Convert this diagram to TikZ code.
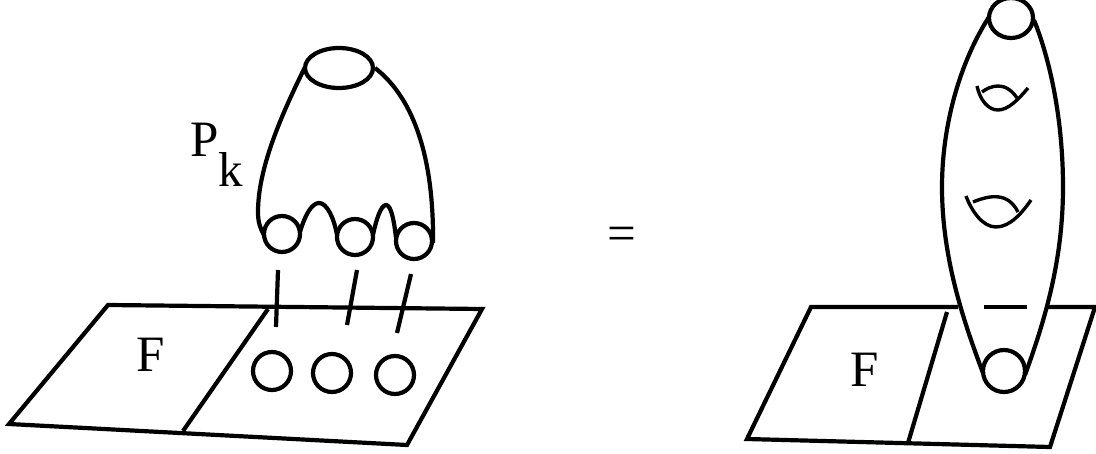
\documentclass[tikz,border=0pt]{standalone}
\usepackage{fontspec}
\setmainfont{Liberation Serif}
\tikzset{
  curve/.style={line width=4.2pt,line join=miter,line cap=butt},
  thin curve/.style={line width=3.4pt,line cap=butt},
  label text/.style={inner sep=0pt,font=\fontsize{51}{51}\selectfont,anchor=base west},
  sub text/.style={inner sep=0pt,font=\fontsize{49}{49}\selectfont,anchor=base west}
}
\begin{document}
\begin{tikzpicture}[x=1pt,y=-1pt]
\useasboundingbox (0,0) rectangle (1096,454);
% left sheet
\draw[curve] (108,305) -- (482,309) -- (407,445) -- (9,424) -- cycle;
\draw[curve] (268,309) -- (183,431);
\draw[curve] (278,270) -- (276,327);
\draw[curve] (357,270) -- (347,325);
\draw[curve] (411,274) -- (397,333);
\draw[curve] (272,371) circle (19);
\draw[curve] (332,373) circle (19);
\draw[curve] (395,375) circle (19);
\node[label text] (F1) at (136,372) {F};
% left surface
\draw[curve] (339,68) ellipse (34 and 20);
\draw[curve] (282,234) circle (18);
\draw[curve] (355,237) circle (18);
\draw[curve] (414,241) circle (18);
\draw[curve] (305,67) .. controls (285,108) and (258,165) .. (258,212) .. controls (258,222) and (260,228) .. (264,235);
\draw[curve] (375,68) .. controls (410,95) and (434,150) .. (433,243);
\draw[curve] (300,232) .. controls (304,218) and (311,203) .. (319,203) .. controls (327,203) and (334,218) .. (337,235);
\draw[curve] (373,235) .. controls (376,220) and (381,205) .. (386,205) .. controls (391,205) and (394,220) .. (396,238);
\node[label text] (P) at (190,157) {P};
\node[sub text] (k) at (218,187) {k};
\node[label text] (eq) at (607,251) {=};
% right sheet
\draw[curve] (958,307) -- (811,307) -- (747,439) -- (1050,447) -- (1095,307) -- (1047,307);
\draw[curve] (984,307) -- (1027,307);
\draw[curve] (947,312) -- (908,443);
\node[label text] (F2) at (850,387) {F};
% right surface
\draw[curve] (1011,18) ellipse (22 and 20);
\draw[curve] (1004,371) circle (21);
\draw[curve] (989,17) .. controls (960,62) and (942,125) .. (942,187) .. controls (942,260) and (965,325) .. (983,373);
\draw[curve] (1034,20) .. controls (1052,65) and (1063,125) .. (1063,187) .. controls (1063,260) and (1045,320) .. (1025,375);
% handles
\draw[thin curve] (977,86) .. controls (980,100) and (988,110) .. (998,110) .. controls (1008,110) and (1018,100) .. (1028,88);
\draw[thin curve] (982,92) .. controls (990,86) and (1005,80) .. (1017,98);
\draw[thin curve] (966,196) .. controls (972,212) and (983,227) .. (996,227) .. controls (1010,227) and (1022,213) .. (1031,200);
\draw[thin curve] (973,202) .. controls (990,195) and (1008,192) .. (1018,212);
\end{tikzpicture}
\end{document}
